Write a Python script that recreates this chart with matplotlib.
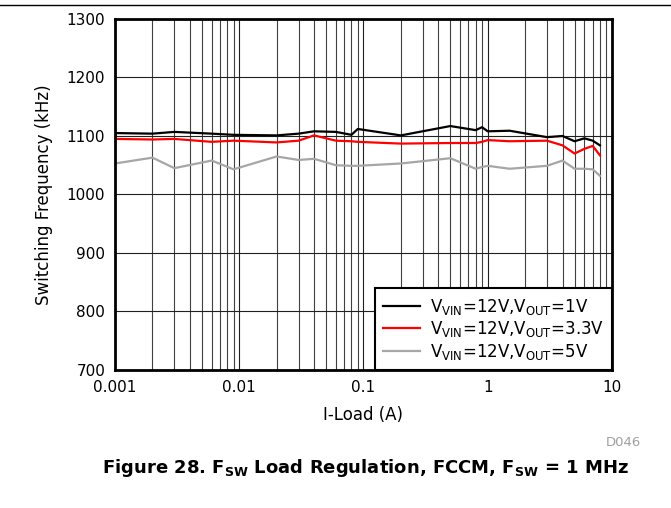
import matplotlib
matplotlib.use('Agg')
import matplotlib.pyplot as plt
from matplotlib.lines import Line2D

plt.rcParams['font.family'] = ['DejaVu Sans']
plt.rcParams['mathtext.fontset'] = 'dejavusans'

# load current (A)
iload = [0.001, 0.002, 0.003, 0.006, 0.009, 0.02, 0.03, 0.04, 0.06, 0.08, 0.09,
         0.2, 0.5, 0.8, 0.9, 1.0, 1.5, 3, 4, 5, 6, 7, 8]

# switching frequency (kHz)
fsw_1v = [1105, 1104, 1107, 1104, 1102, 1101, 1104, 1108, 1107, 1102, 1112,
          1101, 1117, 1110, 1115, 1108, 1109, 1098, 1100, 1091, 1096, 1092, 1084]
fsw_3v3 = [1095, 1094, 1095, 1090, 1092, 1089, 1092, 1101, 1092, 1091, 1090,
           1087, 1088, 1088, 1090, 1093, 1091, 1092, 1084, 1070, 1078, 1083, 1067]
fsw_5v = [1053, 1063, 1045, 1058, 1043, 1065, 1059, 1061, 1050, 1049, 1049,
          1053, 1062, 1044, 1047, 1049, 1044, 1049, 1058, 1044, 1044, 1043, 1032]

labels = [r'V$_{\mathregular{VIN}}$=12V,V$_{\mathregular{OUT}}$=1V',
          r'V$_{\mathregular{VIN}}$=12V,V$_{\mathregular{OUT}}$=3.3V',
          r'V$_{\mathregular{VIN}}$=12V,V$_{\mathregular{OUT}}$=5V']

fig = plt.figure(figsize=(6.71, 5.08), dpi=100)
ax = fig.add_axes([0.1714, 0.2717, 0.7406, 0.6909])

ax.plot(iload, fsw_1v, color='black', lw=1.6, label=labels[0])
ax.plot(iload, fsw_3v3, color='#ff0000', lw=1.6, label=labels[1])
ax.plot(iload, fsw_5v, color='#a6a6a6', lw=1.6, label=labels[2])

ax.set_xscale('log')
ax.set_xlim(0.001, 10)
ax.set_ylim(700, 1300)
ax.set_xticks([0.001, 0.01, 0.1, 1, 10])
ax.set_xticklabels(['0.001', '0.01', '0.1', '1', '10'])
ax.set_yticks(range(700, 1301, 100))

ax.grid(True, which='major', color='#202020', lw=0.8)
ax.grid(True, which='minor', axis='x', color='#404040', lw=0.8)
ax.tick_params(which='both', length=0, labelsize=11, pad=7)
for s in ax.spines.values():
    s.set_linewidth(2)

ax.set_xlabel('I-Load (A)', fontsize=12, labelpad=8)
ax.set_ylabel('Switching Frequency (kHz)', fontsize=12, labelpad=10)

leg = ax.legend(loc='lower right', borderaxespad=0, fontsize=12, handlelength=2.2,
                labelspacing=0.15, fancybox=False, framealpha=1, borderpad=0.5,
                handletextpad=0.6)
leg.get_frame().set_edgecolor('black')
leg.get_frame().set_linewidth(1.5)

fig.text(0.955, 0.122, 'D046', color='#a0a0a0', fontsize=9.5, ha='right')
fig.text(0.545, 0.069, r'Figure 28. F$_{\mathregular{SW}}$ Load Regulation, FCCM, F$_{\mathregular{SW}}$ = 1 MHz',
         fontsize=13, fontweight='bold', ha='center')
fig.add_artist(Line2D([0, 1], [0.99, 0.99], color='black', lw=1))

fig.savefig('out.png', dpi=100)
